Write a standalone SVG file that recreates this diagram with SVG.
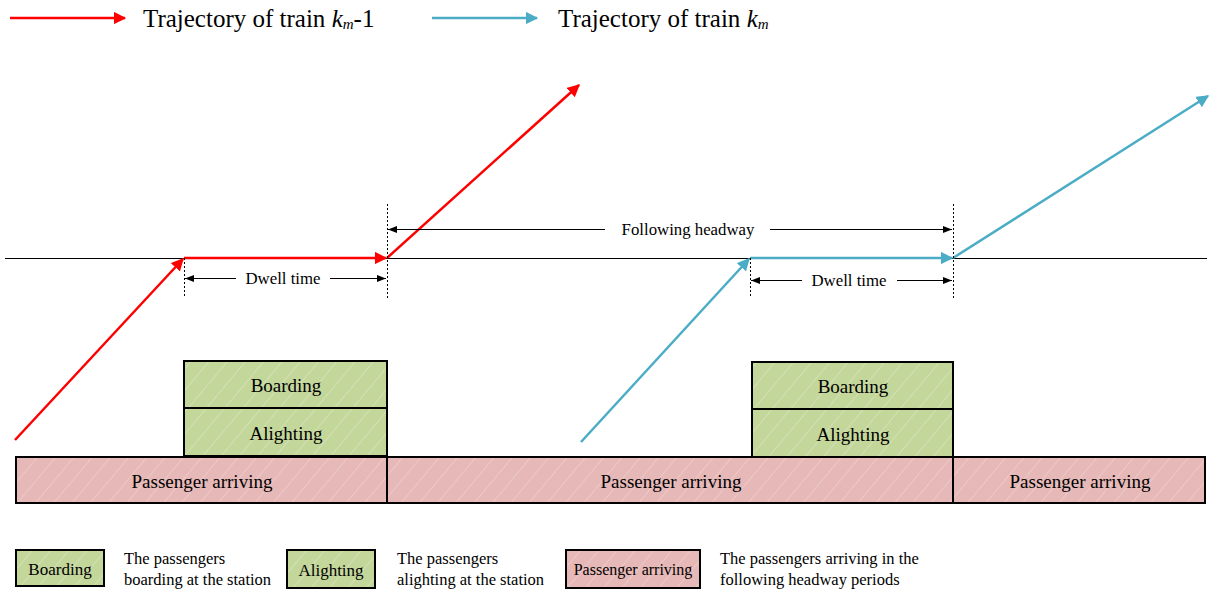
<svg xmlns="http://www.w3.org/2000/svg" width="1210" height="591" viewBox="0 0 1210 591">
<style>
text{font-family:"Liberation Serif","Times New Roman",serif;fill:#000}
.red{stroke:#ff0000;stroke-width:2.5;fill:none}
.blue{stroke:#4bacc6;stroke-width:2.5;fill:none}
.thin{stroke:#000;stroke-width:1;fill:none}
.dash{stroke:#000;stroke-width:1;stroke-dasharray:2,2;fill:none}
.green{fill:url(#hg);stroke:#000;stroke-width:2}
.pink{fill:url(#hp);stroke:#000;stroke-width:2}
.lbl{font-size:19px;text-anchor:middle}
.leg{font-size:16.5px}
.mid{font-size:16.8px;text-anchor:middle}
.big{font-size:25px}
</style>
<defs>
<marker id="ar" viewBox="0 0 10 10" refX="9" refY="5" markerWidth="5" markerHeight="5" orient="auto" markerUnits="strokeWidth"><path d="M0,0 L10,5 L0,10 Z" fill="#ff0000"/></marker>
<marker id="ab" viewBox="0 0 10 10" refX="9" refY="5" markerWidth="5" markerHeight="5" orient="auto" markerUnits="strokeWidth"><path d="M0,0 L10,5 L0,10 Z" fill="#4bacc6"/></marker>
<marker id="ak" viewBox="0 0 10 10" refX="10" refY="5" markerWidth="9" markerHeight="9" orient="auto-start-reverse" markerUnits="userSpaceOnUse"><path d="M0,1 L10,5 L0,9 Z" fill="#000"/></marker>
<pattern id="hg" width="14" height="14" patternUnits="userSpaceOnUse" patternTransform="rotate(40)"><rect width="14" height="14" fill="#c4d79b"/><line x1="0" y1="0" x2="0" y2="14" stroke="#d7e4bc" stroke-width="1.5"/></pattern>
<pattern id="hp" width="14" height="14" patternUnits="userSpaceOnUse" patternTransform="rotate(40)"><rect width="14" height="14" fill="#e6b8b7"/><line x1="0" y1="0" x2="0" y2="14" stroke="#efcfce" stroke-width="1.5"/></pattern>
</defs>

<g id="legend-top">
<line class="red" x1="10" y1="18" x2="125" y2="18" marker-end="url(#ar)"/>
<text class="big" x="143" y="27">Trajectory of train <tspan font-style="italic">k</tspan><tspan font-style="italic" font-size="15" dy="2">m</tspan><tspan dy="-2">-1</tspan></text>
<line class="blue" x1="432" y1="18" x2="537" y2="18" marker-end="url(#ab)"/>
<text class="big" x="558" y="27">Trajectory of train <tspan font-style="italic">k</tspan><tspan font-style="italic" font-size="15" dy="2">m</tspan></text>
</g>

<g id="connectors">
<line class="thin" x1="5" y1="258.5" x2="1207" y2="258.5"/>
<line class="red" x1="15" y1="440" x2="183" y2="259" marker-end="url(#ar)"/>
<line class="red" x1="184" y1="258" x2="386" y2="258" marker-end="url(#ar)"/>
<line class="red" x1="387" y1="258" x2="579" y2="85" marker-end="url(#ar)"/>
<line class="blue" x1="581" y1="442" x2="749" y2="259" marker-end="url(#ab)"/>
<line class="blue" x1="750" y1="258" x2="952" y2="258" marker-end="url(#ab)"/>
<line class="blue" x1="953" y1="258" x2="1208" y2="96" marker-end="url(#ab)"/>
<line class="dash" x1="184.5" y1="258" x2="184.5" y2="298"/>
<line class="dash" x1="387.5" y1="204" x2="387.5" y2="298"/>
<line class="dash" x1="750.5" y1="258" x2="750.5" y2="298"/>
<line class="dash" x1="953.5" y1="204" x2="953.5" y2="298"/>
<line class="thin" x1="236" y1="278.5" x2="185" y2="278.5" marker-end="url(#ak)"/>
<line class="thin" x1="330" y1="278.5" x2="386" y2="278.5" marker-end="url(#ak)"/>
<line class="thin" x1="802" y1="280.5" x2="751" y2="280.5" marker-end="url(#ak)"/>
<line class="thin" x1="897" y1="280.5" x2="952" y2="280.5" marker-end="url(#ak)"/>
<line class="thin" x1="605" y1="229.5" x2="388" y2="229.5" marker-end="url(#ak)"/>
<line class="thin" x1="770" y1="229.5" x2="952" y2="229.5" marker-end="url(#ak)"/>
</g>
<text class="mid" x="283" y="284">Dwell time</text>
<text class="mid" x="849" y="286">Dwell time</text>
<text class="mid" x="688" y="235">Following headway</text>

<g id="boarding1"><rect class="green" x="184" y="361" width="203" height="47"/><text class="lbl" x="286" y="392">Boarding</text></g>
<g id="alighting1"><rect class="green" x="184" y="408" width="203" height="48"/><text class="lbl" x="286" y="440">Alighting</text></g>
<g id="boarding2"><rect class="green" x="752" y="362" width="201" height="47"/><text class="lbl" x="853" y="393">Boarding</text></g>
<g id="alighting2"><rect class="green" x="752" y="409" width="201" height="48"/><text class="lbl" x="853" y="441">Alighting</text></g>
<g id="arriving1"><rect class="pink" x="16" y="457" width="371" height="46"/><text class="lbl" x="202" y="488">Passenger arriving</text></g>
<g id="arriving2"><rect class="pink" x="387" y="457" width="566" height="46"/><text class="lbl" x="671" y="488">Passenger arriving</text></g>
<g id="arriving3"><rect class="pink" x="953" y="457" width="252" height="46"/><text class="lbl" x="1080" y="488">Passenger arriving</text></g>

<g id="legend-boarding"><rect class="green" x="16" y="550" width="88" height="36"/><text x="60" y="575" font-size="17" text-anchor="middle">Boarding</text>
<text class="leg" x="124" y="564">The passengers</text><text class="leg" x="124" y="585">boarding at the station</text></g>
<g id="legend-alighting"><rect class="green" x="287" y="550" width="88" height="38"/><text x="331" y="576" font-size="17" text-anchor="middle">Alighting</text>
<text class="leg" x="397" y="564">The passengers</text><text class="leg" x="397" y="585">alighting at the station</text></g>
<g id="legend-arriving"><rect class="pink" x="566" y="550" width="134" height="38"/><text x="633" y="575" font-size="16" text-anchor="middle">Passenger arriving</text>
<text class="leg" x="720" y="564">The passengers arriving in the</text><text class="leg" x="720" y="585">following headway periods</text></g>
</svg>
